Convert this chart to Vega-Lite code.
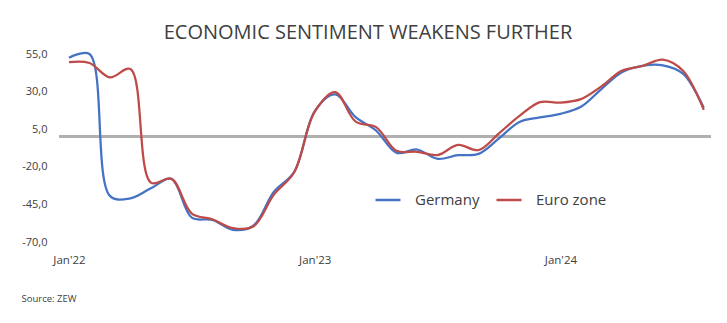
{
  "$schema": "https://vega.github.io/schema/vega-lite/v6.json",
  "width": 652,
  "height": 188,
  "autosize": {"type": "none"},
  "padding": {"left": 59, "top": 54, "right": 16, "bottom": 81},
  "background": "white",
  "title": {
    "text": "ECONOMIC SENTIMENT WEAKENS FURTHER",
    "anchor": "middle",
    "frame": "group",
    "dx": -17,
    "offset": 5,
    "font": "Open Sans",
    "fontSize": 20,
    "fontWeight": "normal",
    "color": "#404040"
  },
  "config": {
    "view": {"stroke": null},
    "font": "Open Sans"
  },
  "data": {
    "values": [
      {"month": "2022-01", "series": "Germany", "value": 52.5},
      {"month": "2022-02", "series": "Germany", "value": 55.0},
      {"month": "2022-03", "series": "Germany", "value": -39.3},
      {"month": "2022-04", "series": "Germany", "value": -41.0},
      {"month": "2022-05", "series": "Germany", "value": -34.3},
      {"month": "2022-06", "series": "Germany", "value": -28.0},
      {"month": "2022-07", "series": "Germany", "value": -53.8},
      {"month": "2022-08", "series": "Germany", "value": -55.3},
      {"month": "2022-09", "series": "Germany", "value": -61.9},
      {"month": "2022-10", "series": "Germany", "value": -59.2},
      {"month": "2022-11", "series": "Germany", "value": -36.7},
      {"month": "2022-12", "series": "Germany", "value": -23.3},
      {"month": "2023-01", "series": "Germany", "value": 16.9},
      {"month": "2023-02", "series": "Germany", "value": 28.1},
      {"month": "2023-03", "series": "Germany", "value": 13.0},
      {"month": "2023-04", "series": "Germany", "value": 4.1},
      {"month": "2023-05", "series": "Germany", "value": -10.7},
      {"month": "2023-06", "series": "Germany", "value": -8.5},
      {"month": "2023-07", "series": "Germany", "value": -14.7},
      {"month": "2023-08", "series": "Germany", "value": -12.3},
      {"month": "2023-09", "series": "Germany", "value": -11.4},
      {"month": "2023-10", "series": "Germany", "value": -1.1},
      {"month": "2023-11", "series": "Germany", "value": 9.8},
      {"month": "2023-12", "series": "Germany", "value": 12.8},
      {"month": "2024-01", "series": "Germany", "value": 15.2},
      {"month": "2024-02", "series": "Germany", "value": 19.9},
      {"month": "2024-03", "series": "Germany", "value": 31.7},
      {"month": "2024-04", "series": "Germany", "value": 42.9},
      {"month": "2024-05", "series": "Germany", "value": 47.1},
      {"month": "2024-06", "series": "Germany", "value": 47.5},
      {"month": "2024-07", "series": "Germany", "value": 41.8},
      {"month": "2024-08", "series": "Germany", "value": 19.2},
      {"month": "2022-01", "series": "Euro zone", "value": 49.6},
      {"month": "2022-02", "series": "Euro zone", "value": 49.0},
      {"month": "2022-03", "series": "Euro zone", "value": 39.4},
      {"month": "2022-04", "series": "Euro zone", "value": 45.0},
      {"month": "2022-05", "series": "Euro zone", "value": -30.5},
      {"month": "2022-06", "series": "Euro zone", "value": -28.0},
      {"month": "2022-07", "series": "Euro zone", "value": -51.1},
      {"month": "2022-08", "series": "Euro zone", "value": -54.9},
      {"month": "2022-09", "series": "Euro zone", "value": -60.7},
      {"month": "2022-10", "series": "Euro zone", "value": -59.7},
      {"month": "2022-11", "series": "Euro zone", "value": -38.7},
      {"month": "2022-12", "series": "Euro zone", "value": -23.6},
      {"month": "2023-01", "series": "Euro zone", "value": 16.7},
      {"month": "2023-02", "series": "Euro zone", "value": 29.7},
      {"month": "2023-03", "series": "Euro zone", "value": 10.0},
      {"month": "2023-04", "series": "Euro zone", "value": 6.4},
      {"month": "2023-05", "series": "Euro zone", "value": -9.4},
      {"month": "2023-06", "series": "Euro zone", "value": -10.0},
      {"month": "2023-07", "series": "Euro zone", "value": -12.2},
      {"month": "2023-08", "series": "Euro zone", "value": -5.5},
      {"month": "2023-09", "series": "Euro zone", "value": -8.9},
      {"month": "2023-10", "series": "Euro zone", "value": 2.3},
      {"month": "2023-11", "series": "Euro zone", "value": 13.8},
      {"month": "2023-12", "series": "Euro zone", "value": 23.0},
      {"month": "2024-01", "series": "Euro zone", "value": 22.7},
      {"month": "2024-02", "series": "Euro zone", "value": 25.0},
      {"month": "2024-03", "series": "Euro zone", "value": 33.5},
      {"month": "2024-04", "series": "Euro zone", "value": 43.9},
      {"month": "2024-05", "series": "Euro zone", "value": 47.0},
      {"month": "2024-06", "series": "Euro zone", "value": 51.3},
      {"month": "2024-07", "series": "Euro zone", "value": 43.7},
      {"month": "2024-08", "series": "Euro zone", "value": 17.9}
    ]
  },
  "encoding": {
    "x": {
      "field": "month",
      "type": "ordinal",
      "scale": {"type": "point", "padding": 0.42, "align": 0.58},
      "axis": {
        "values": ["2022-01", "2023-01", "2024-01"],
        "labelExpr": "\"Jan'\" + substring(datum.value, 2, 4)",
        "labelAngle": 0,
        "labelFont": "Open Sans",
        "labelFontSize": 11.5,
        "labelColor": "#404040",
        "labelPadding": 12,
        "ticks": false,
        "domain": false,
        "grid": false,
        "title": "Source: ZEW",
        "titleAnchor": "start",
        "titleAlign": "left",
        "titleX": -38,
        "titleY": 51,
        "titleFont": "Open Sans",
        "titleFontSize": 9.5,
        "titleFontWeight": "normal",
        "titleColor": "#404040"
      }
    },
    "y": {
      "field": "value",
      "type": "quantitative",
      "scale": {"domain": [-70, 55], "nice": false, "zero": false},
      "axis": {
        "values": [-70, -45, -20, 5, 30, 55],
        "labelExpr": "(datum.value < 0 ? '-' : '') + replace(format(abs(datum.value), '.1f'), '.', ',')",
        "labelFont": "Open Sans",
        "labelFontSize": 11,
        "labelColor": "#404040",
        "labelPadding": 12,
        "ticks": false,
        "domain": false,
        "grid": false,
        "title": null
      }
    },
    "color": {
      "field": "series",
      "type": "nominal",
      "scale": {"domain": ["Germany", "Euro zone"], "range": ["#4472C4", "#BE4B48"]},
      "legend": {
        "orient": "none",
        "legendX": 315,
        "legendY": 132,
        "direction": "horizontal",
        "title": null,
        "padding": 0,
        "symbolType": "stroke",
        "symbolSize": 625,
        "symbolStrokeWidth": 2.5,
        "labelOffset": 13,
        "columnPadding": 11,
        "labelFont": "Open Sans",
        "labelFontSize": 15,
        "labelColor": "#404040"
      }
    }
  },
  "layer": [
    {
      "mark": {"type": "rule", "color": "#B0B0B0", "strokeWidth": 2},
      "encoding": {"y": {"datum": 0}, "x": null, "color": null}
    },
    {
      "transform": [{"filter": "datum.series === 'Germany'"}],
      "mark": {"type": "line", "interpolate": "catmull-rom", "strokeWidth": 2.25}
    },
    {
      "transform": [{"filter": "datum.series === 'Euro zone'"}],
      "mark": {"type": "line", "interpolate": "catmull-rom", "strokeWidth": 2.25}
    }
  ]
}
